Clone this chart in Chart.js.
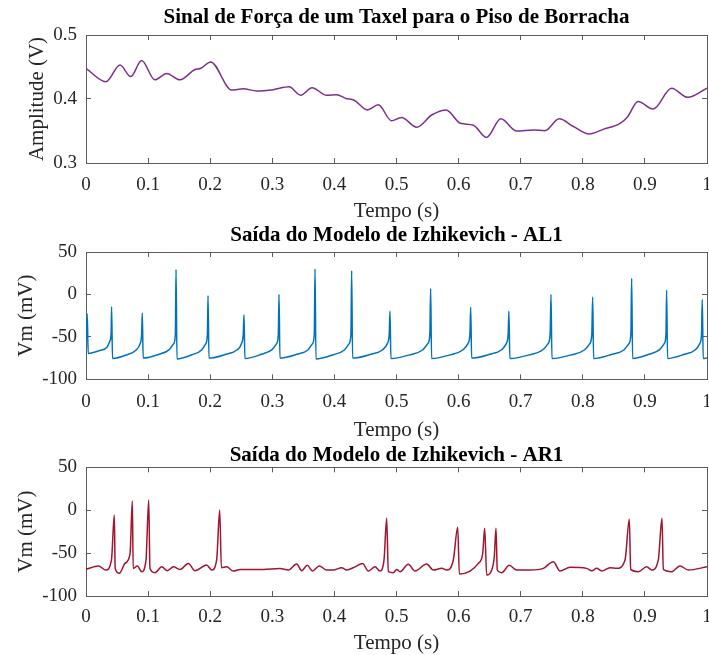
<!DOCTYPE html>
<html><head><meta charset="utf-8">
<script src="https://cdn.jsdelivr.net/npm/chart.js@4/dist/chart.umd.min.js"></script>
<style>
html,body{margin:0;padding:0;background:#fff;width:709px;height:655px;overflow:hidden}
canvas{position:absolute;left:0}
</style></head><body>
<canvas id="c1" style="top:0px;width:709px;height:228px" width="709" height="228"></canvas>
<canvas id="c2" style="top:222px;width:709px;height:225px" width="709" height="225"></canvas>
<canvas id="c3" style="top:435px;width:709px;height:222px" width="709" height="222"></canvas>
<script>
// ---- data ----
const xTickValues = [0, 0.1, 0.2, 0.3, 0.4, 0.5, 0.6, 0.7, 0.8, 0.9, 1];
const xTickLabels = ['0', '0.1', '0.2', '0.3', '0.4', '0.5', '0.6', '0.7', '0.8', '0.9', '1'];
const ampTickValues = [0.3, 0.4, 0.5];
const ampTickLabels = ['0.3', '0.4', '0.5'];
const vmTickValues = [-100, -50, 0, 50];
const vmTickLabels = ['-100', '-50', '0', '50'];

const ampT = [0, 0.032, 0.0548, 0.072, 0.0896, 0.111, 0.130, 0.151, 0.1755, 0.185,
  0.2008, 0.2346, 0.253, 0.275, 0.3016, 0.327, 0.3456, 0.364, 0.3875, 0.4036,
  0.418, 0.432, 0.453, 0.4707, 0.492, 0.508, 0.5325, 0.5567, 0.580, 0.603,
  0.6237, 0.645, 0.668, 0.6935, 0.7203, 0.739, 0.762, 0.785, 0.810, 0.833,
  0.860, 0.872, 0.889, 0.9135, 0.943, 0.969, 1.0];
const ampV = [0.448, 0.427, 0.453, 0.435, 0.460, 0.430, 0.440, 0.430, 0.446, 0.448,
  0.458, 0.414, 0.416, 0.4125, 0.4146, 0.419, 0.406, 0.4177, 0.4058, 0.4068,
  0.401, 0.398, 0.383, 0.391, 0.366, 0.371, 0.356, 0.375, 0.383, 0.362,
  0.359, 0.340, 0.369, 0.350, 0.3516, 0.3505, 0.369, 0.357, 0.3453, 0.3526,
  0.362, 0.372, 0.396, 0.3844, 0.4167, 0.4026, 0.417];

const al1T = [0, 0.002, 0.0035, 0.022, 0.034, 0.0385, 0.0405, 0.0412,
  0.0427, 0.0659, 0.0807, 0.0871, 0.0896, 0.0906,
  0.0921, 0.1178, 0.1341, 0.1412, 0.1439, 0.145,
  0.1465, 0.1708, 0.1862, 0.1929, 0.1955, 0.1965,
  0.198, 0.2255, 0.2428, 0.2503, 0.2532, 0.2544,
  0.2559, 0.2826, 0.2995, 0.3069, 0.3097, 0.3108,
  0.3123, 0.3398, 0.3572, 0.3647, 0.3676, 0.3688,
  0.3703, 0.3983, 0.416, 0.4237, 0.4266, 0.4278,
  0.4293, 0.4587, 0.4772, 0.4852, 0.4883, 0.4895,
  0.491, 0.5223, 0.5419, 0.5504, 0.5537, 0.555,
  0.5565, 0.5873, 0.6066, 0.615, 0.6182, 0.6195,
  0.621, 0.6503, 0.6687, 0.6767, 0.6798, 0.681,
  0.6825, 0.7149, 0.7352, 0.7441, 0.7474, 0.7488,
  0.7503, 0.7824, 0.8025, 0.8112, 0.8145, 0.8159,
  0.8174, 0.8473, 0.8661, 0.8743, 0.8774, 0.8787,
  0.8802, 0.9069, 0.9237, 0.9311, 0.9339, 0.935,
  0.9365, 0.9637, 0.9809, 0.9884, 0.9912, 0.9924,
  0.9939, 1.0];
const al1V = [-57, -23, -69.5, -66, -62, -55, -45, -14.5,
  -75.5, -71, -65.5, -58, -47, -22,
  -75, -70.5, -65, -58, -47, 29.5,
  -76, -71, -65.5, -58, -47, -1.5,
  -75, -70.5, -65.5, -58, -47, -24,
  -75.5, -70.5, -65, -58, -47, 0,
  -75, -70.5, -65.5, -58, -47, 30,
  -76, -71, -65.5, -58, -47, 28,
  -75, -70.5, -65.5, -58, -47, -19.5,
  -75.5, -71, -65.5, -58, -47, 7,
  -75.5, -71, -65.5, -58, -47, -15,
  -75, -70.5, -65.5, -58, -47, -19.5,
  -75.5, -71, -65.5, -58, -47, 0,
  -75.5, -71, -65.5, -58, -47, -3,
  -75.5, -70.5, -65.5, -58, -47, 19,
  -75.5, -70.5, -65, -58, -47, 5,
  -75.5, -70.5, -65.5, -58, -47, -6,
  -75.5, -75];

const ar1T = [0, 0.020, 0.032, 0.041, 0.0456, 0.047, 0.0537, 0.0628, 0.0709, 0.0746,
  0.076, 0.0827, 0.0897, 0.0966, 0.101, 0.103, 0.111, 0.122, 0.131, 0.1406,
  0.1514, 0.1648, 0.1755, 0.1943, 0.2024, 0.2104, 0.2153, 0.218, 0.2265, 0.2372,
  0.248, 0.2855, 0.3124, 0.3258, 0.3393, 0.3473, 0.3564, 0.3645, 0.3757, 0.3876,
  0.398, 0.4117, 0.4198, 0.4332, 0.4455, 0.4546, 0.4654, 0.4734, 0.4799, 0.4842,
  0.4868, 0.4949, 0.5003, 0.5057, 0.519, 0.5298, 0.5486, 0.5593, 0.5728, 0.5808,
  0.5915, 0.5986, 0.6012, 0.6184, 0.6318, 0.6388, 0.642, 0.6452, 0.6533, 0.6575,
  0.6602, 0.6623, 0.6694, 0.6817, 0.6935, 0.715, 0.7364, 0.7525, 0.7633, 0.7794,
  0.8063, 0.8143, 0.8224, 0.8304, 0.8438, 0.8546, 0.868, 0.8749, 0.8771, 0.8894,
  0.9029, 0.911, 0.9216, 0.9275, 0.9297, 0.9432, 0.9565, 0.9699, 1.0];
const ar1V = [-69, -65, -69.7, -58, -5.6, -68, -73.5, -62, -51, 10.7,
  -68, -65, -71.7, -58, 11.9, -68, -72.8, -65.9, -70.5, -66,
  -69, -62, -70.5, -63.9, -69.7, -58, 0.2, -67, -66, -70.9,
  -69, -69, -68, -69.7, -62.7, -70.5, -64.3, -70.9, -65, -69.7,
  -69.7, -67, -69.7, -66, -62, -70.9, -66, -70.9, -58, -9.4,
  -71.7, -72.8, -69, -71.7, -63, -70.9, -62.7, -69.7, -67.8, -69.7,
  -58, -20, -74.4, -70.9, -62, -50.5, -21, -75.5, -69.7, -54,
  -21, -69.7, -72.8, -64.3, -69.7, -69.7, -67.8, -60, -70.9, -66.6,
  -67.8, -70.5, -67.8, -70.9, -67, -67.8, -58, -10.6, -69, -71.7,
  -66, -69.7, -58, -9.4, -69, -71.7, -65, -69.7, -66];

// ---- drawing ----
const FAM = "'Liberation Serif','Times New Roman',serif";
const INK = '#262626';
const AXC = '#5c5c5c';

function makeChart(id, o) {
  const hx = o.height - o.plotBottom;
  const setX = s => { s.ticks = xTickValues.map(v => ({value: v})); };
  const setY = s => { s.ticks = o.yTicks.map(v => ({value: v})); };
  const grid = {drawOnChartArea: false, drawTicks: true, tickLength: -5, color: AXC, lineWidth: 1};
  const border = {display: true, color: AXC, width: 1};
  return new Chart(document.getElementById(id), {
    type: 'line',
    data: {datasets: [{
      data: o.t.map((x, i) => ({x: x, y: o.v[i]})),
      borderColor: o.color, borderWidth: 1.5, pointRadius: 0,
      cubicInterpolationMode: 'monotone', fill: false
    }]},
    options: {
      responsive: false, animation: false, devicePixelRatio: 1,
      layout: {padding: {left: 0, right: 2, top: 0, bottom: 0}},
      plugins: {
        legend: {display: false}, tooltip: {enabled: false},
        title: {display: true, fullSize: false, text: o.title, color: '#000',
          font: {family: FAM, size: 21, weight: 'bold', lineHeight: o.titleLH},
          padding: {top: o.titleTop, bottom: o.titleBottom}}
      },
      scales: {
        x: {type: 'linear', position: 'bottom', min: 0, max: 1,
          afterBuildTicks: setX,
          afterFit: s => { s.height = hx; s.paddingLeft = 0; s.paddingRight = 0; },
          ticks: {callback: (v, i) => xTickLabels[i], color: INK, font: {family: FAM, size: 19},
            padding: o.tickPad, maxRotation: 0, autoSkip: false},
          grid: grid, border: border,
          title: {display: true, text: 'Tempo (s)', color: INK, font: {family: FAM, size: 21},
            padding: {top: 0, bottom: o.xTitlePad}}
        },
        y: {type: 'linear', position: 'left', min: o.ymin, max: o.ymax,
          afterBuildTicks: setY,
          afterFit: s => { s.width = 86; },
          ticks: {callback: (v, i) => o.yLabels[i], color: INK, font: {family: FAM, size: 19}, padding: 14},
          grid: grid, border: border,
          title: {display: true, text: o.ylabel, color: INK, font: {family: FAM, size: 21},
            padding: {top: o.yTitlePad, bottom: 0}}
        },
        x2: {type: 'linear', position: 'top', min: 0, max: 1,
          afterBuildTicks: setX,
          afterFit: s => { s.height = 0; s.paddingLeft = 0; s.paddingRight = 0; },
          ticks: {display: false}, grid: grid, border: border
        },
        y2: {type: 'linear', position: 'right', min: o.ymin, max: o.ymax,
          afterBuildTicks: setY,
          afterFit: s => { s.width = 0; s.paddingTop = 0; s.paddingBottom = 0; },
          ticks: {display: false}, grid: grid, border: border
        }
      }
    }
  });
}

makeChart('c1', {t: ampT, v: ampV, color: '#7E2F8E', height: 228, plotBottom: 163,
  title: 'Sinal de Força de um Taxel para o Piso de Borracha', titleLH: 1.2, titleTop: 4.9, titleBottom: 4.9,
  tickPad: 16.1, xTitlePad: 4.4,
  ymin: 0.3, ymax: 0.5, yTicks: ampTickValues, yLabels: ampTickLabels,
  ylabel: 'Amplitude (V)', yTitlePad: 24.9});
makeChart('c2', {t: al1T, v: al1V, color: '#0072BD', height: 225, plotBottom: 157.3,
  title: 'Saída do Modelo de Izhikevich - AL1', titleLH: 1.2, titleTop: 1.4, titleBottom: 3.4,
  tickPad: 16.3, xTitlePad: 4.4,
  ymin: -100, ymax: 50, yTicks: vmTickValues, yLabels: vmTickLabels,
  ylabel: 'Vm (mV)', yTitlePad: 13.4});
makeChart('c3', {t: ar1T, v: ar1V, color: '#A2142F', height: 222, plotBottom: 161,
  title: 'Saída do Modelo de Izhikevich - AR1', titleLH: 1.0, titleTop: 10.5, titleBottom: 0.8,
  tickPad: 15.1, xTitlePad: 1.4,
  ymin: -100, ymax: 50, yTicks: vmTickValues, yLabels: vmTickLabels,
  ylabel: 'Vm (mV)', yTitlePad: 13.4});
</script>
</body></html>
